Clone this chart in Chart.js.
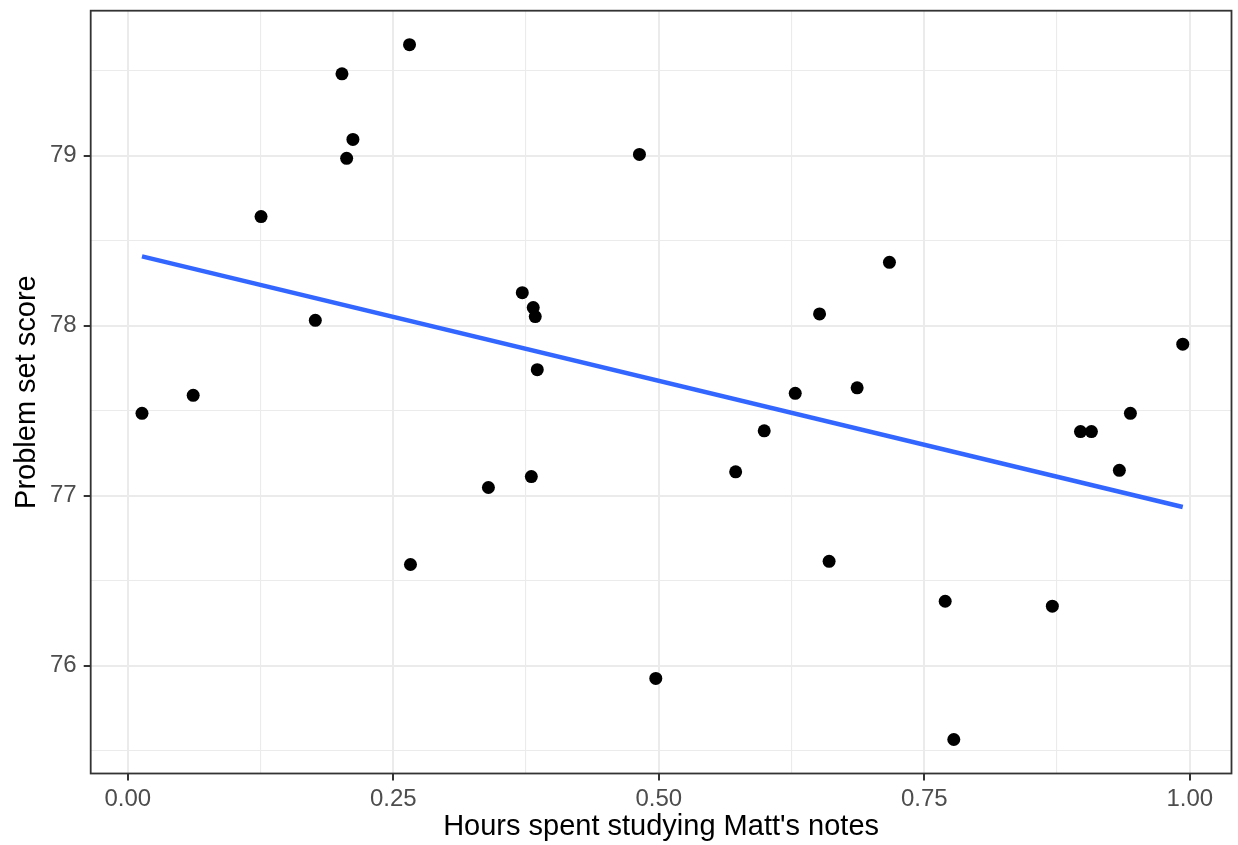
<!DOCTYPE html>
<html>
<head>
<meta charset="utf-8">
<script src="https://cdn.jsdelivr.net/npm/chart.js@4.4.1/dist/chart.umd.min.js"></script>
<style>
  html, body { margin: 0; padding: 0; background: #fff; }
  #wrap { width: 1238px; height: 845px; }
</style>
</head>
<body>
<div id="wrap"><canvas id="myChart" width="1238" height="845"></canvas></div>
<script>
// hours studied vs score
let hours = [0.0134, 0.0616, 0.1255, 0.1766, 0.2017, 0.2061, 0.2120, 0.2653, 0.2662, 0.3396,
    0.3715, 0.3818, 0.3837, 0.3856, 0.3800, 0.4818, 0.4972, 0.5724, 0.5993, 0.6285,
    0.6514, 0.6604, 0.6868, 0.7172, 0.7697, 0.7778, 0.8706, 0.8971, 0.9074, 0.9337,
    0.9441, 0.9934];
let scores = [77.484, 77.590, 78.641, 78.031, 79.481, 78.984, 79.095, 79.652, 76.595, 77.048,
    78.194, 78.106, 78.053, 77.741, 77.112, 79.007, 75.925, 77.140, 77.381, 77.602,
    78.069, 76.614, 77.634, 78.372, 76.379, 75.566, 76.350, 77.377, 77.377, 77.149,
    77.484, 77.891];

// fitted line (lm) end points
let fitX = [0.0134, 0.9934];
let fitY = [78.407, 76.933];

let xTicks = [0, 0.25, 0.5, 0.75, 1];
let xTickLabels = ['0.00', '0.25', '0.50', '0.75', '1.00'];
let yTicks = [76, 77, 78, 79];
let yTickLabels = ['76', '77', '78', '79'];

const font = "'Liberation Sans', Arial, sans-serif";

function withMinor(major, lo, hi) {
    const step = major[1] - major[0];
    const out = [];
    for (let v = major[0] - step / 2; v <= hi; v += step / 2) {
        if (v >= lo) out.push(v);
    }
    return out;
}

function majorIndex(list, v) {
    return list.findIndex(t => Math.abs(t - v) < 1e-6);
}

function gridFor(list) {
    return {
        color: '#EBEBEB',
        lineWidth: (c) => majorIndex(list, c.tick.value) >= 0 ? 2 : 1.1,
        tickColor: (c) => majorIndex(list, c.tick.value) >= 0 ? '#333333' : 'rgba(0,0,0,0)',
        tickWidth: 2,
        tickLength: 7,
        drawTicks: true
    };
}

const panelBorder = {
    id: 'panelBorder',
    afterDraw(chart) {
        const a = chart.chartArea;
        const ctx = chart.ctx;
        ctx.save();
        ctx.strokeStyle = '#333333';
        ctx.lineWidth = 1.8;
        ctx.strokeRect(a.left, a.top, a.right - a.left, a.bottom - a.top);
        ctx.restore();
    }
};

const xMin = -0.0349, xMax = 1.0393;
const yMin = 75.366, yMax = 79.852;

const ctx = document.getElementById('myChart').getContext('2d');
const chart = new Chart(ctx, {
    data: {
        datasets: [
            {
                type: 'line',
                data: fitX.map((x, i) => ({ x: x, y: fitY[i] })),
                borderColor: '#3366FF',
                borderWidth: 4.5,
                pointRadius: 0,
                fill: false,
                tension: 0
            },
            {
                type: 'scatter',
                data: hours.map((x, i) => ({ x: x, y: scores[i] })),
                backgroundColor: '#000000',
                borderWidth: 0,
                pointRadius: 6.5
            }
        ]
    },
    options: {
        responsive: false,
        animation: false,
        events: [],
        layout: { padding: { left: 0, top: 10.7, right: 4.7, bottom: 0 } },
        plugins: {
            legend: { display: false },
            tooltip: { enabled: false }
        },
        scales: {
            x: {
                type: 'linear',
                min: xMin,
                max: xMax,
                border: { display: false },
                grid: gridFor(xTicks),
                afterBuildTicks: (s) => {
                    s.ticks = withMinor(xTicks, xMin, xMax).map(v => ({ value: v }));
                },
                afterFit: (s) => {
                    s.height = 71.5;
                    s.paddingLeft = 0;
                    s.paddingRight = 0;
                },
                ticks: {
                    autoSkip: false,
                    maxRotation: 0,
                    padding: 4,
                    color: '#4D4D4D',
                    font: { family: font, size: 24 },
                    callback: (v) => {
                        const i = majorIndex(xTicks, v);
                        return i >= 0 ? xTickLabels[i] : '';
                    }
                },
                title: {
                    display: true,
                    text: "Hours spent studying Matt's notes",
                    color: '#000000',
                    font: { family: font, size: 29 },
                    padding: { top: 0, bottom: 1 }
                }
            },
            y: {
                type: 'linear',
                min: yMin,
                max: yMax,
                border: { display: false },
                grid: gridFor(yTicks),
                afterBuildTicks: (s) => {
                    s.ticks = withMinor(yTicks, yMin, yMax).map(v => ({ value: v }));
                },
                afterFit: (s) => {
                    s.width = 90.7;
                    s.paddingTop = 0;
                    s.paddingBottom = 0;
                },
                ticks: {
                    autoSkip: false,
                    padding: 7,
                    color: '#4D4D4D',
                    font: { family: font, size: 24 },
                    callback: (v) => {
                        const i = majorIndex(yTicks, v);
                        return i >= 0 ? yTickLabels[i] : '';
                    }
                },
                title: {
                    display: true,
                    text: 'Problem set score',
                    color: '#000000',
                    font: { family: font, size: 29 },
                    padding: { top: 9.6, bottom: 0 }
                }
            }
        }
    },
    plugins: [panelBorder]
});
</script>
</body>
</html>
